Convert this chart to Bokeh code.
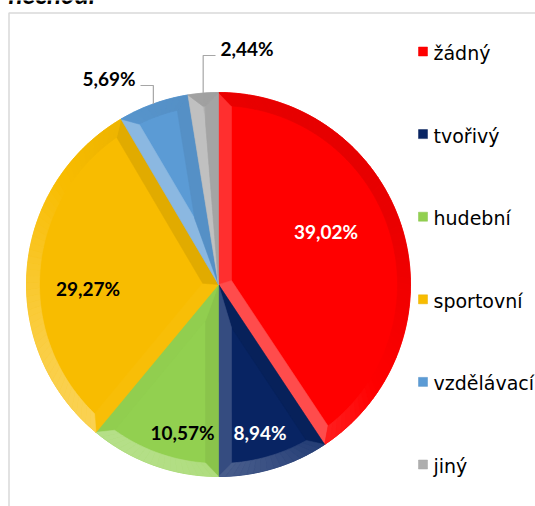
import math
from bokeh.plotting import figure
from bokeh.models import Range1d, ColumnDataSource
from bokeh.core.properties import value
from bokeh.embed import file_html
from bokeh.resources import INLINE

# ---------------- data ----------------
categories = ["žádný", "tvořivý", "hudební", "sportovní", "vzdělávací", "jiný"]
values = [39.02, 8.94, 10.57, 29.27, 5.69, 2.44]
value_labels = ["39,02%", "8,94%", "10,57%", "29,27%", "5,69%", "2,44%"]
title_text = "nechodí"

# ---------------- styles / layout ----------------
colors = ["#FF0000", "#082463", "#92D050", "#F8BC00", "#5B9BD5", "#AEAEAE"]
label_colors = ["white", "white", "black", "black", "black", "black"]
# label anchor positions (page pixels), baseline y
lab_x = [325.5, 259.5, 182, 87.5, 135, 220]
lab_y = [238, 439, 439, 295, 85, 55]
lab_align = ["center", "center", "center", "center", "right", "left"]
lab_outside = [False, False, False, False, True, True]

W, H = 535, 506
CX, CY, R = 218, 284, 192
BEVEL = 13
LIGHT_BEARING = math.radians(215)
TXT_SHIFT = 7.5   # renderer places alphabetic baseline lower; compensate

LEG_MARK_X = 422.5
LEG_TEXT_X = 433
LEG_Y0 = 60
LEG_STEP = 82.6


def pt(b, r):
    return (CX + r * math.sin(b), CY - r * math.cos(b))


def hex2rgb(h):
    h = h.lstrip("#")
    return tuple(int(h[i:i + 2], 16) for i in (0, 2, 4))


def shade(col, d):
    r, g, b = hex2rgb(col)
    if d > 0:
        t = 0.32 * d
        r, g, b = r + (255 - r) * t, g + (255 - g) * t, b + (255 - b) * t
    else:
        t = 0.10 * (-d)
        r, g, b = r * (1 - t), g * (1 - t), b * (1 - t)
    return "#%02x%02x%02x" % (int(round(r)), int(round(g)), int(round(b)))


def light(phi):
    return math.sin(phi) * math.sin(LIGHT_BEARING) + math.cos(phi) * math.cos(LIGHT_BEARING)


p = figure(width=W, height=H, x_range=Range1d(0, W), y_range=Range1d(H, 0),
           output_backend="svg", toolbar_location=None, min_border=0,
           x_axis_type=None, y_axis_type=None)
p.grid.visible = False
p.outline_line_color = None
p.background_fill_color = "white"
p.border_fill_color = "white"

# chart border
p.line(x=[W, 8.5, 8.5], y=[12.5, 12.5, H], line_color="#D9D9D9", line_width=1.5)

# title (mostly cut off at top)
p.text(x=[8], y=[-7], text=[title_text], text_font=value("Lato"),
       text_font_style="bold italic", text_font_size="26px",
       text_baseline="alphabetic", text_align="left", text_color="black")

total = sum(values)
xs, ys, fills = [], [], []
fx, fy, ffill = [], [], []
mids = []
cum = 0.0
for i, v in enumerate(values):
    ts = 2 * math.pi * cum / total
    cum += v
    te = 2 * math.pi * cum / total
    a = (te - ts) / 2
    tm = ts + a
    mids.append(tm)
    n_arc = max(4, int(math.degrees(te - ts) / 1.5))
    arc = [pt(ts + (te - ts) * k / n_arc, R) for k in range(n_arc + 1)]
    poly = [(CX, CY)] + arc
    xs.append([q[0] for q in poly])
    ys.append([q[1] for q in poly])
    fills.append(colors[i])

    sa = math.sin(a)
    r_in = R * sa / (1 + sa)
    w = min(BEVEL, r_in)
    dl = math.asin(w / (R - w))
    dC = w / sa
    Cp = pt(tm, dC)
    # side facets
    f1 = [(CX, CY), pt(ts, R), pt(ts + dl, R - w), Cp]
    f2 = [(CX, CY), pt(te, R), pt(te - dl, R - w), Cp]
    for f, phi in ((f1, ts - math.pi / 2), (f2, te + math.pi / 2)):
        fx.append([q[0] for q in f])
        fy.append([q[1] for q in f])
        ffill.append(shade(colors[i], light(phi)))
    # outer facet segments
    n = max(2, int(math.degrees(te - ts) / 2))
    for k in range(n):
        u0, u1 = k / n, (k + 1) / n
        o0, o1 = ts + u0 * (te - ts), ts + u1 * (te - ts)
        i0 = (ts + dl) + u0 * ((te - dl) - (ts + dl))
        i1 = (ts + dl) + u1 * ((te - dl) - (ts + dl))
        f = [pt(o0, R), pt((o0 + o1) / 2, R), pt(o1, R), pt(i1, R - w), pt(i0, R - w)]
        fx.append([q[0] for q in f])
        fy.append([q[1] for q in f])
        ffill.append(shade(colors[i], light((o0 + o1) / 2)))

p.patches(xs="xs", ys="ys", fill_color="c", line_color="c", line_width=0.6,
          source=ColumnDataSource(dict(xs=xs, ys=ys, c=fills)))
p.patches(xs="xs", ys="ys", fill_color="c", line_color="c", line_width=0.6,
          source=ColumnDataSource(dict(xs=fx, ys=fy, c=ffill)))

# leader lines for outside labels
for i in range(len(values)):
    if not lab_outside[i]:
        continue
    ax, ay = pt(mids[i], R)
    end_x = lab_x[i] + (5 if lab_align[i] == "right" else -5)
    p.line(x=[ax, ax, end_x], y=[ay, lab_y[i], lab_y[i]],
           line_color="#A6A6A6", line_width=1.2)

# value labels
for i in range(len(values)):
    p.text(x=[lab_x[i]], y=[lab_y[i] - TXT_SHIFT], text=[value_labels[i]],
           text_font=value("Lato"), text_font_style="bold", text_font_size="19px",
           text_align=lab_align[i], text_baseline="alphabetic",
           text_color=label_colors[i])

# legend
for i, c in enumerate(categories):
    by = LEG_Y0 + i * LEG_STEP
    p.rect(x=[LEG_MARK_X], y=[by - 9], width=9, height=9,
           fill_color=colors[i], line_color=shade(colors[i], -0.6), line_width=0.5)
    p.text(x=[LEG_TEXT_X], y=[by - TXT_SHIFT], text=[c], text_font=value("DejaVu Sans"),
           text_font_size="19px", text_baseline="alphabetic", text_align="left",
           text_color="black")

open("out.html", "w").write(file_html(p, INLINE))
